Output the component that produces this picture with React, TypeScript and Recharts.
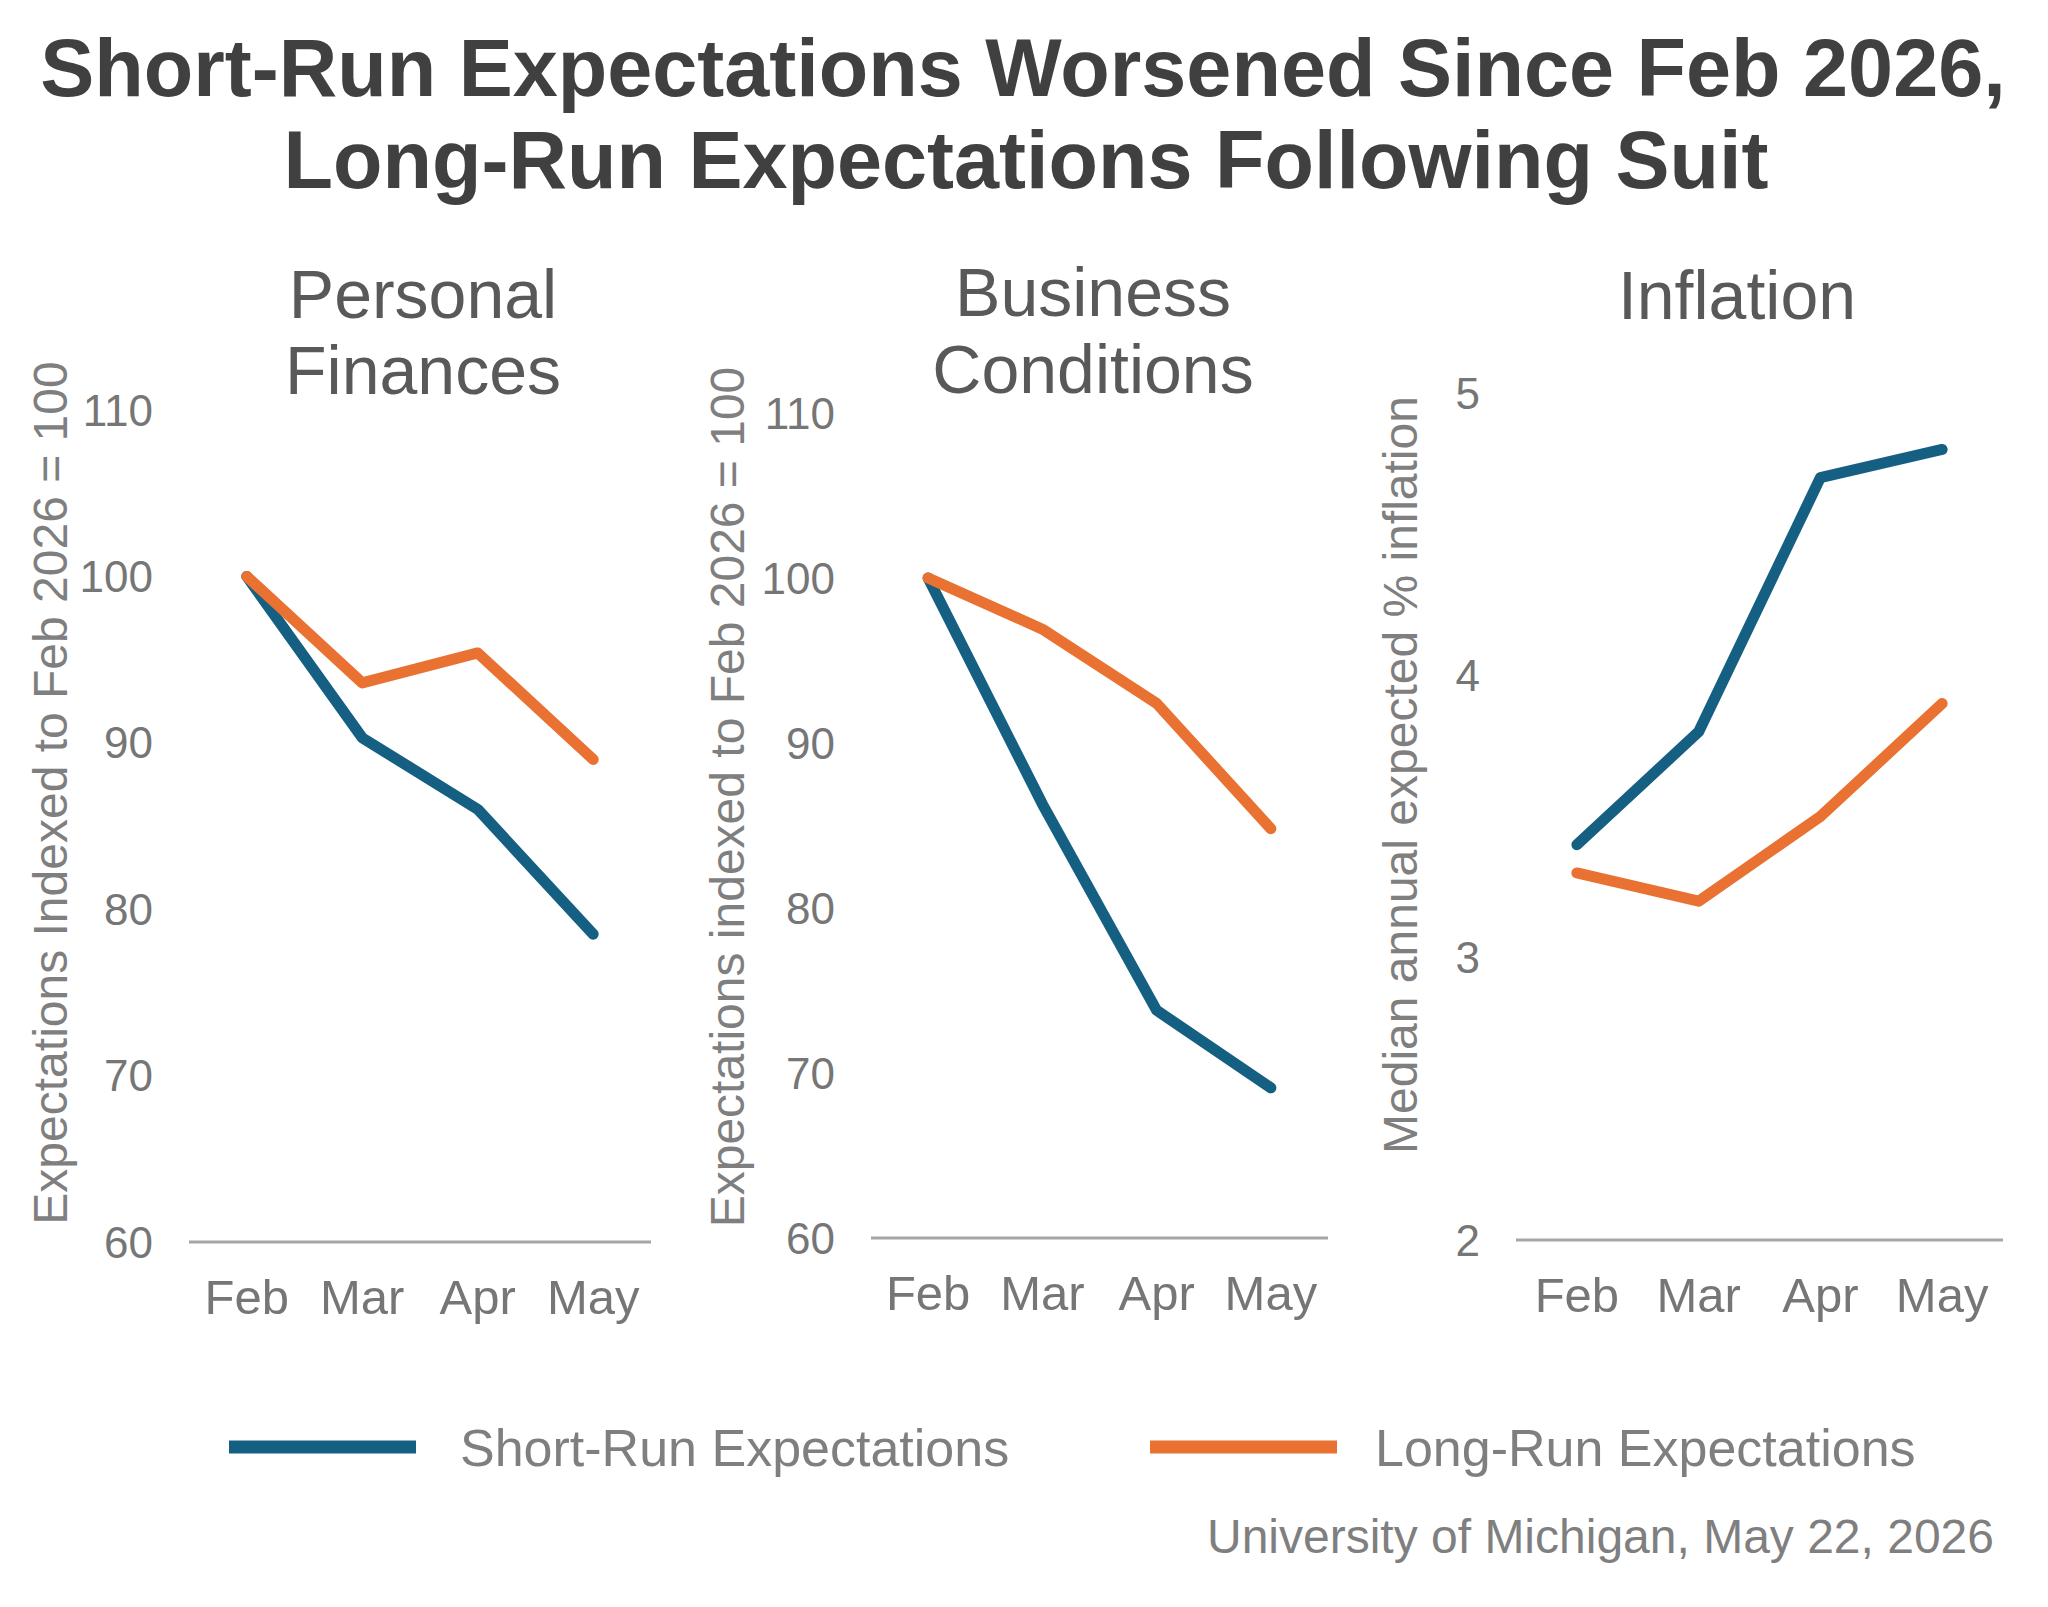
import React from 'react';
import { LineChart, Line, XAxis, YAxis } from 'recharts';

// month categories shared by all three panels
const months = ['Feb', 'Mar', 'Apr', 'May'];

// Personal Finances, indexed to Feb 2026 = 100
const personalShort = [100, 90.3, 86.0, 78.5];
const personalLong = [100, 93.6, 95.4, 89.0];

// Business Conditions, indexed to Feb 2026 = 100
const businessShort = [100, 86.3, 73.8, 69.1];
const businessLong = [100, 96.9, 92.4, 84.8];

// Inflation, median annual expected %
const inflationShort = [3.4, 3.8, 4.7, 4.8];
const inflationLong = [3.3, 3.2, 3.5, 3.9];

const indexTicks = [60, 70, 80, 90, 100, 110];
const inflationTicks = [2, 3, 4, 5];

const COLORS = {
  short: '#156082',
  long: '#E97132',
  axis: '#A6A6A6',
  tick: '#767676',
  label: '#7F7F7F',
  panelTitle: '#595959',
  title: '#404040',
};

const FONT = '"Liberation Sans", Arial, sans-serif';

const toRows = (shortVals: number[], longVals: number[]) =>
  months.map((m, i) => ({ month: m, short: shortVals[i], long: longVals[i] }));

const axisTitle = (text: string, dx: number, dy: number) => (props: any) => {
  const vb = props.viewBox || { x: 0, y: 0, width: 0, height: 0 };
  const cx = vb.x + dx;
  const cy = vb.y + vb.height / 2 + dy;
  return (
    <text
      x={cx}
      y={cy}
      transform={`rotate(-90 ${cx} ${cy})`}
      textAnchor="middle"
      dominantBaseline="central"
      fontSize={48}
      fill={COLORS.label}
    >
      {text}
    </text>
  );
};

interface PanelProps {
  left: number;
  top: number;
  width: number;
  height: number;
  margin: { top: number; right: number; left: number; bottom: number };
  yWidth: number;
  xHeight: number;
  plotWidth: number;
  data: Array<{ month: string; short: number; long: number }>;
  domain: [number, number];
  ticks: number[];
  yLabel: string;
  labelDx: number;
  labelDy: number;
}

function Panel(p: PanelProps) {
  const pad = p.plotWidth / 8;
  return (
    <div style={{ position: 'absolute', left: p.left, top: p.top }}>
      <LineChart width={p.width} height={p.height} data={p.data} margin={p.margin}>
        <XAxis
          dataKey="month"
          interval={0}
          padding={{ left: pad, right: pad }}
          axisLine={{ stroke: COLORS.axis, strokeWidth: 3 }}
          tickLine={false}
          tickSize={0}
          tickMargin={37}
          height={p.xHeight}
          tick={{ fontSize: 49, fill: COLORS.tick }}
        />
        <YAxis
          domain={p.domain}
          ticks={p.ticks}
          interval={0}
          width={p.yWidth}
          axisLine={false}
          tickLine={false}
          tickSize={0}
          tickMargin={36}
          tick={{ fontSize: 44, fill: COLORS.tick }}
          label={axisTitle(p.yLabel, p.labelDx, p.labelDy)}
        />
        <Line
          type="linear"
          dataKey="short"
          stroke={COLORS.short}
          strokeWidth={11}
          strokeLinecap="round"
          strokeLinejoin="round"
          dot={false}
          activeDot={false}
          isAnimationActive={false}
        />
        <Line
          type="linear"
          dataKey="long"
          stroke={COLORS.long}
          strokeWidth={11}
          strokeLinecap="round"
          strokeLinejoin="round"
          dot={false}
          activeDot={false}
          isAnimationActive={false}
        />
      </LineChart>
    </div>
  );
}

export default function App() {
  return (
    <div
      style={{
        position: 'absolute',
        left: 0,
        top: 0,
        width: 2048,
        height: 1607,
        background: '#fff',
        fontFamily: FONT,
        overflow: 'hidden',
      }}
    >
      <Panel
        left={0}
        top={360}
        width={680}
        height={982}
        margin={{ top: 50, right: 29, left: 0, bottom: 0 }}
        yWidth={189}
        xHeight={100}
        plotWidth={462}
        data={toRows(personalShort, personalLong)}
        domain={[60, 110]}
        ticks={indexTicks}
        yLabel="Expectations Indexed to Feb 2026 = 100"
        labelDx={50}
        labelDy={-33}
      />
      <Panel
        left={680}
        top={360}
        width={678}
        height={978}
        margin={{ top: 53, right: 30, left: 0, bottom: 0 }}
        yWidth={191}
        xHeight={100}
        plotWidth={457}
        data={toRows(businessShort, businessLong)}
        domain={[60, 110]}
        ticks={indexTicks}
        yLabel="Expectations indexed to Feb 2026 = 100"
        labelDx={47.5}
        labelDy={-28.5}
      />
      <Panel
        left={1360}
        top={340}
        width={688}
        height={1000}
        margin={{ top: 53, right: 45, left: 0, bottom: 0 }}
        yWidth={156}
        xHeight={100}
        plotWidth={487}
        data={toRows(inflationShort, inflationLong)}
        domain={[2, 5]}
        ticks={inflationTicks}
        yLabel="Median annual expected % inflation"
        labelDx={40}
        labelDy={-41.5}
      />

      <svg
        width={2048}
        height={1607}
        style={{ position: 'absolute', left: 0, top: 0, pointerEvents: 'none' }}
      >
        <g fontWeight="bold" fontSize={81} fill={COLORS.title} textAnchor="middle">
          <text x={1023} y={96}>Short-Run Expectations Worsened Since Feb 2026,</text>
          <text x={1026} y={188}>Long-Run Expectations Following Suit</text>
        </g>
        <g fontSize={68} fill={COLORS.panelTitle} textAnchor="middle">
          <text x={423} y={318}>Personal</text>
          <text x={423} y={394}>Finances</text>
          <text x={1093} y={316}>Business</text>
          <text x={1093} y={393}>Conditions</text>
          <text x={1737} y={319}>Inflation</text>
        </g>
        <g fontSize={52} fill={COLORS.label}>
          <line x1={229} x2={416} y1={1447} y2={1447} stroke={COLORS.short} strokeWidth={13} />
          <text x={460} y={1466}>Short-Run Expectations</text>
          <line x1={1150} x2={1337} y1={1447} y2={1447} stroke={COLORS.long} strokeWidth={13} />
          <text x={1375} y={1466}>Long-Run Expectations</text>
        </g>
        <text x={1994} y={1553} fontSize={48} fill={COLORS.label} textAnchor="end">
          University of Michigan, May 22, 2026
        </text>
      </svg>
    </div>
  );
}
